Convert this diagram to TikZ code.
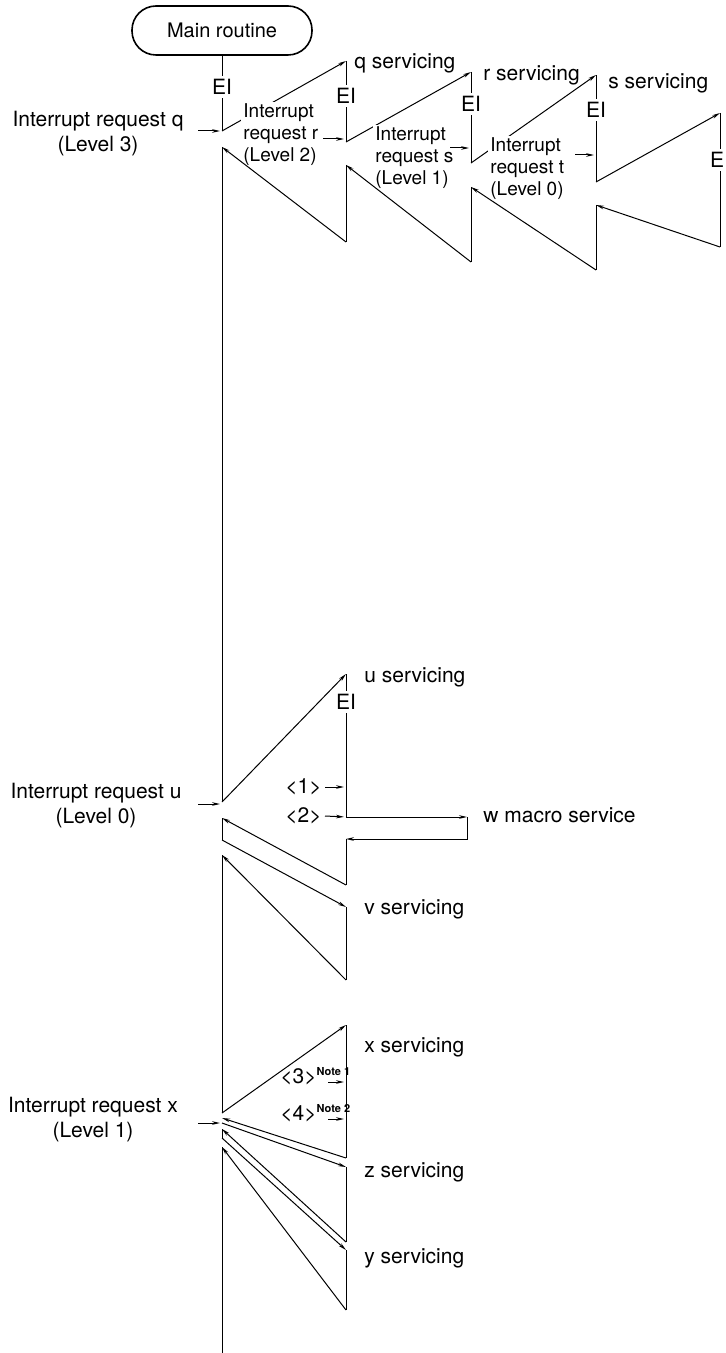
\documentclass[tikz,border=0pt]{standalone}
\usepackage{fontspec}
\setmainfont{TeX Gyre Heros}
\usetikzlibrary{arrows.meta}

\tikzset{
  seg/.style={line width=0.5pt},
  flow/.style={seg,-{Stealth[length=4pt,width=1.8pt]}},
  req/.style={flow,shorten >=1pt},
  ei/.style={fill=white,inner sep=1.5pt},
  startbox/.style={draw,line width=0.8pt,rounded corners=12pt,minimum width=90pt,minimum height=24.5pt},
  side/.style={align=center,font=\fontsize{10.5}{12.5}\selectfont},
  inner/.style={anchor=west,align=left,fill=white,inner sep=1pt,font=\fontsize{9.5}{11}\selectfont},
  serv/.style={anchor=west,inner sep=1pt},
  note/.style={anchor=west,inner sep=0.5pt},
}
\newcommand{\notemark}[1]{\textsuperscript{\bfseries\fontsize{5.5}{6}\selectfont Note #1}}

\begin{document}
\begin{tikzpicture}[x=0.5pt,y=-0.5pt,font=\fontsize{10.5}{12.5}\selectfont]
\useasboundingbox (0,0) rectangle (726,1353);

\node[startbox,font=\fontsize{10}{12}\selectfont] (main) at (222,30.5) {Main routine};

% points on the main routine line
\coordinate (m1) at (222,131);
\coordinate (m2) at (222,147);
\coordinate (m3) at (222,802);
\coordinate (m4) at (222,818);
\coordinate (m5) at (222,840);
\coordinate (m6) at (222,855);
\coordinate (m7) at (222,1113);
\coordinate (m8) at (222,1118);
\coordinate (m9) at (222,1123);
\coordinate (m10) at (222,1129);
\coordinate (m11) at (222,1138);
\coordinate (m12) at (222,1147);
\coordinate (mend) at (222,1353);

% nested servicing q, r, s, t
\coordinate (q0) at (346,61);  \coordinate (q1) at (346,142);
\coordinate (q2) at (346,165); \coordinate (q3) at (346,242);
\coordinate (r0) at (471,72);  \coordinate (r1) at (471,163);
\coordinate (r2) at (471,187); \coordinate (r3) at (471,262);
\coordinate (s0) at (596,75);  \coordinate (s1) at (596,182);
\coordinate (s2) at (596,205); \coordinate (s3) at (596,270);
\coordinate (t0) at (720,113); \coordinate (t1) at (720,247);

% u servicing and w macro service
\coordinate (u0) at (346,674); \coordinate (u1) at (346,817);
\coordinate (u2) at (346,839); \coordinate (u3) at (346,885);
\coordinate (w0) at (467,817); \coordinate (w1) at (467,839);
\coordinate (v0) at (346,907); \coordinate (v1) at (346,980);

% x, z, y servicing
\coordinate (x0) at (346,1025); \coordinate (x1) at (346,1158);
\coordinate (z0) at (346,1167); \coordinate (z1) at (346,1242);
\coordinate (y0) at (346,1250); \coordinate (y1) at (346,1310);

\draw[seg] (main.south) -- (m1);
\draw[seg] (m2) -- (m3);
\draw[seg] (m4) -- (m5);
\draw[seg] (m6) -- (m7);
\draw[seg] (m10) -- (m11);
\draw[seg] (m12) -- (mend);

\draw[flow] (m1) -- (q0);
\draw[seg] (q0) -- (q1);
\draw[flow] (q1) -- (r0);
\draw[seg] (r0) -- (r1);
\draw[flow] (r1) -- (s0);
\draw[seg] (s0) -- (s1);
\draw[flow] (s1) -- (t0);
\draw[seg] (t0) -- (t1);
\draw[flow] (t1) -- (s2);
\draw[seg] (s2) -- (s3);
\draw[seg] (r2) -- (r3);
\draw[seg] (q2) -- (q3);

\draw[flow] (m3) -- (u0);
\draw[seg] (u0) -- (u1);
\draw[flow] (u1) -- (w0);
\draw[flow] (w0) -- (w1) -- (u2);
\draw[seg] (u2) -- (u3);
\draw[flow] (u3) -- (m4);
\draw[flow] (m5) -- (v0);
\draw[seg] (v0) -- (v1);
\draw[flow] (v1) -- (m6);

\draw[flow] (m7) -- (x0);
\draw[seg] (x0) -- (x1);
\draw[flow] (x1) -- (m8);
\draw[flow] (m9) -- (z0);
\draw[seg] (z0) -- (z1);
\draw[flow] (z1) -- (m10);
\draw[flow] (m11) -- (y0);
\draw[seg] (y0) -- (y1);
\draw[flow] (y1) -- (m12);

% EI marks on the lines
\node[ei] (eim) at (222,87) {EI};
\node[ei] (eiq) at (346,96) {EI};
\node[ei] (eir) at (471,104) {EI};
\node[ei] (eis) at (596,110) {EI};
\node[ei] (eit) at (717,160) {E};
\node[ei] (eiu) at (346,702) {EI};

% interrupt requests
\node[side] (irqq) at (98,133.5) {Interrupt request q\\(Level 3)};
\node[side] (irqu) at (96,805.5) {Interrupt request u\\(Level 0)};
\node[side] (irqx) at (93,1119.5) {Interrupt request x\\(Level 1)};
\node[inner] (irqr) at (241,135) {Interrupt\\request r\\(Level 2)};
\node[inner] (irqs) at (373,158) {Interrupt\\request s\\(Level 1)};
\node[inner] (irqt) at (488,169) {Interrupt\\request t\\(Level 0)};

% returns run over the labels
\draw[flow] (s3) -- (r2);
\draw[flow] (r3) -- (q2);
\draw[flow] (q3) -- (m2);

\coordinate (inq) at (198,131);   \coordinate (atq) at (222,131);
\coordinate (inr) at (323,139);   \coordinate (atr) at (346,139);
\coordinate (ins) at (450,148);   \coordinate (ats) at (471,148);
\coordinate (int) at (575,155);   \coordinate (att) at (596,155);
\coordinate (inu) at (198,804);   \coordinate (atu) at (222,804);
\coordinate (inx) at (198,1123);  \coordinate (atx) at (222,1123);
\draw[req] (inq) -- (atq);
\draw[req] (inr) -- (atr);
\draw[req] (ins) -- (ats);
\draw[req] (int) -- (att);
\draw[req] (inu) -- (atu);
\draw[req] (inx) -- (atx);

% servicing labels
\node[serv] (lq) at (352,63) {q servicing};
\node[serv] (lr) at (481,75) {r servicing};
\node[serv] (ls) at (606,83) {s servicing};
\node[serv] (lu) at (362,677) {u servicing};
\node[serv] (lw) at (481,815) {w macro service};
\node[serv] (lv) at (362,909) {v servicing};
\node[serv] (lx) at (362,1047) {x servicing};
\node[serv] (lz) at (362,1172) {z servicing};
\node[serv] (ly) at (362,1258) {y servicing};

% numbered events
\node[note] (n1) at (284,787) {<1>};
\node[note] (n2) at (284,816) {<2>};
\node[note] (n3) at (279,1076) {<3>\notemark{1}};
\node[note] (n4) at (279,1113) {<4>\notemark{2}};
\coordinate (at1) at (346,787);  \coordinate (at2) at (346,817);
\coordinate (at3) at (346,1082); \coordinate (at4) at (346,1119);
\coordinate (in3) at (328,1082); \coordinate (in4) at (328,1119);
\draw[req] (n1.east) ++(2,0) -- (at1);
\draw[req] (n2.east) ++(2,0) -- (at2);
\draw[req] (in3) -- (at3);
\draw[req] (in4) -- (at4);
\end{tikzpicture}
\end{document}
